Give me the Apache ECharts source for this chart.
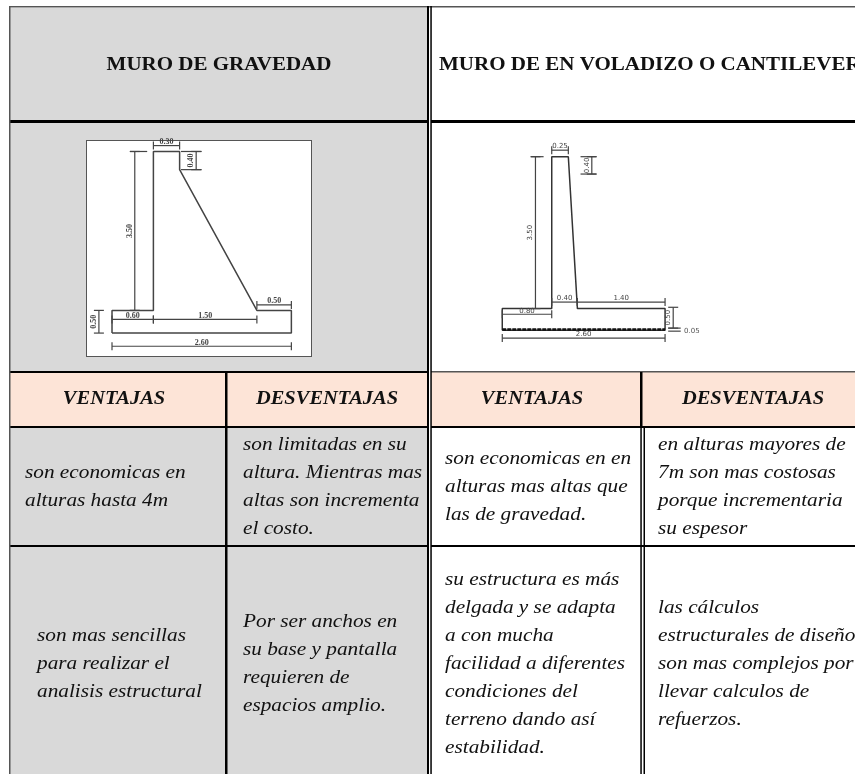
<!DOCTYPE html>
<html>
<head>
<meta charset="utf-8">
<style>html,body{margin:0;padding:0;background:#fff}#chart{width:855px;height:774px}</style>
<script src="https://cdn.jsdelivr.net/npm/echarts@6/dist/echarts.min.js"></script>
</head>
<body>
<div id="chart"></div>
<script>
// textos de la tabla
const titulos = ['MURO DE GRAVEDAD', 'MURO DE EN VOLADIZO O CANTILEVER'];
const encabezados = ['VENTAJAS', 'DESVENTAJAS', 'VENTAJAS', 'DESVENTAJAS'];
const filaUno = [
  ['son economicas en', 'alturas hasta 4m'],
  ['son limitadas en su', 'altura. Mientras mas', 'altas son incrementa', 'el costo.'],
  ['son economicas en en', 'alturas mas altas que', 'las de gravedad.'],
  ['en alturas mayores de', '7m son mas costosas', 'porque incrementaria', 'su espesor']
];
const filaDos = [
  ['son mas sencillas', 'para realizar el', 'analisis estructural'],
  ['Por ser anchos en', 'su base y pantalla', 'requieren de', 'espacios amplio.'],
  ['su estructura es más', 'delgada y se adapta', 'a con mucha', 'facilidad a diferentes', 'condiciones del', 'terreno dando así', 'estabilidad.'],
  ['las cálculos', 'estructurales de diseño', 'son mas complejos por', 'llevar calculos de', 'refuerzos.']
];

// muro de gravedad, en metros tal como esta dibujado
const perfilGravedad = [[0, 0], [0, 0.5], [0.6, 0.5], [0.6, 4], [0.98, 4], [0.98, 3.6], [2.1, 0.5], [2.6, 0.5], [2.6, 0], [0, 0]];
const cotasGravedad = [
  ['0.30', 0.6, 4.13, 0.98, 4.13],
  ['0.40', 1.22, 4, 1.22, 3.6],
  ['3.50', 0.33, 4, 0.33, 0.5],
  ['0.50', -0.19, 0.5, -0.19, 0],
  ['0.60', 0, 0.3, 0.6, 0.3],
  ['1.50', 0.6, 0.3, 2.1, 0.3],
  ['0.50', 2.1, 0.62, 2.6, 0.62],
  ['2.60', 0, -0.29, 2.6, -0.29]
];
const extensionGravedad = [[0.26, 4, 0.51, 4], [1.0, 4, 1.3, 4], [1.0, 3.6, 1.3, 3.6]];

// muro en voladizo
const perfilVoladizo = [[0, 0], [0, 0.5], [0.79, 0.5], [0.79, 4], [1.055, 4], [1.2, 0.5], [2.6, 0.5], [2.6, 0], [0, 0]];
const fondoVoladizo = [[0, 0.02], [2.6, 0.02]];
const cotasVoladizo = [
  ['0.25', 0.79, 4.15, 1.055, 4.15],
  ['0.40', 1.43, 4, 1.43, 3.6],
  ['3.50', 0.53, 4, 0.53, 0.5],
  ['0.40', 0.79, 0.65, 1.2, 0.65],
  ['1.40', 1.2, 0.65, 2.6, 0.65],
  ['0.80', 0, 0.37, 0.79, 0.37],
  ['0.50', 2.73, 0.53, 2.73, 0.05],
  ['2.60', 0, -0.18, 2.6, -0.18]
];
const extensionVoladizo = [[0.46, 4, 0.66, 4], [1.25, 4, 1.5, 4], [1.25, 3.6, 1.5, 3.6], [2.65, 0.05, 2.85, 0.05], [2.65, -0.02, 2.85, -0.02]];

const GRIS = '#d9d9d9';
const DURAZNO = '#fde4d7';
const NEGRO = '#000';
const OSCURO = '#555';
const SERIF = '"Liberation Serif", serif';

// rectangulos de la tabla en pixeles de pagina: x0, y0, x1, y1, color
const fondos = [
  [10, 8, 428, 774, GRIS],
  [10, 372, 428, 427, DURAZNO],
  [431, 372, 855, 427, DURAZNO],
  [86, 140, 312, 357, '#fff']
];
const reglas = [
  [9, 6, 855, 7.5, OSCURO],
  [10, 120, 428, 123, NEGRO],
  [431, 120, 855, 123, NEGRO],
  [10, 371, 428, 373, NEGRO],
  [431, 371, 855, 372.5, OSCURO],
  [10, 426, 428, 428, NEGRO],
  [431, 426, 855, 428, NEGRO],
  [10, 545, 428, 547, NEGRO],
  [431, 545, 855, 547, NEGRO],
  [9, 6, 10.5, 774, OSCURO],
  [225, 372, 227.5, 774, NEGRO],
  [427, 6, 429, 774, NEGRO],
  [430.3, 6, 431.8, 774, NEGRO],
  [640, 372, 642.5, 427, NEGRO],
  [640.3, 427, 641.8, 774, NEGRO],
  [643.5, 427, 645, 774, NEGRO],
  // marco de la imagen del muro de gravedad
  [86, 140, 312, 141, OSCURO],
  [86, 356, 312, 357, OSCURO],
  [86, 140, 87, 357, OSCURO],
  [311, 140, 312, 357, OSCURO]
];

// posiciones de los textos; el original sale ensanchado, por eso el estirado
const textos = [];
function agregar(lineas, x, y, align, font, estirado) {
  textos.push({ texto: lineas.join('\n'), x: x, y: y, align: align, font: font, estirado: estirado });
}
const FONT_TITULO = 'bold 18.6px ' + SERIF;
const FONT_ENCABEZADO = 'italic bold 18.6px ' + SERIF;
const FONT_CUERPO = 'italic 18.5px ' + SERIF;
agregar([titulos[0]], 219, 65, 'center', FONT_TITULO, 1.13);
agregar([titulos[1]], 439, 65, 'left', FONT_TITULO, 1.13);
[114, 327, 532, 753].forEach((x, i) => agregar([encabezados[i]], x, 399, 'center', FONT_ENCABEZADO, 1.1));
const xCuerpo = [25, 243, 445, 658];
xCuerpo.forEach((x, i) => agregar(filaUno[i], x, 487, 'left', FONT_CUERPO, 1.15));
[37, 243, 445, 658].forEach((x, i) => agregar(filaDos[i], x, 664.5, 'left', FONT_CUERPO, 1.15));

function rectItem(api, r) {
  const a = api.coord([r[0], r[1]]);
  const b = api.coord([r[2], r[3]]);
  return { type: 'rect', shape: { x: a[0], y: a[1], width: b[0] - a[0], height: b[1] - a[1] }, style: { fill: r[4] } };
}

function serieRects(lista, z) {
  return {
    type: 'custom', xAxisIndex: 0, yAxisIndex: 0, z: z, silent: true, clip: false,
    data: lista.map((r, i) => [i, 0]),
    renderItem: (params, api) => rectItem(api, lista[params.dataIndex])
  };
}

function serieTextos() {
  return {
    type: 'custom', xAxisIndex: 0, yAxisIndex: 0, z: 3, silent: true, clip: false,
    data: textos.map((t, i) => [i, 0]),
    renderItem: (params, api) => {
      const t = textos[params.dataIndex];
      const p = api.coord([t.x, t.y]);
      return {
        type: 'text', x: p[0], y: p[1], scaleX: t.estirado,
        style: { text: t.texto, font: t.font, lineHeight: 28, fill: '#111', align: t.align, verticalAlign: 'middle' }
      };
    }
  };
}

// cota: linea, marcas en los extremos y numero
function serieCotas(eje, cotas, extension, font, color) {
  const lineaStyle = { stroke: color, lineWidth: 1.2, fill: null };
  return [{
    type: 'custom', xAxisIndex: eje, yAxisIndex: eje, z: 5, silent: true, clip: false,
    data: cotas.map((c, i) => [i, 0]),
    renderItem: (params, api) => {
      const c = cotas[params.dataIndex];
      const a = api.coord([c[1], c[2]]);
      const b = api.coord([c[3], c[4]]);
      const vertical = c[1] === c[3];
      const dx = vertical ? 5 : 0;
      const dy = vertical ? 0 : 4;
      const linea = (x1, y1, x2, y2) => ({ type: 'line', shape: { x1, y1, x2, y2 }, style: lineaStyle });
      return {
        type: 'group',
        children: [
          linea(a[0], a[1], b[0], b[1]),
          linea(a[0] - dx, a[1] - dy, a[0] + dx, a[1] + dy),
          linea(b[0] - dx, b[1] - dy, b[0] + dx, b[1] + dy),
          {
            type: 'text',
            x: vertical ? a[0] - 5 : (a[0] + b[0]) / 2,
            y: vertical ? (a[1] + b[1]) / 2 : a[1] - 3.5,
            rotation: vertical ? Math.PI / 2 : 0,
            style: { text: c[0], font: font, fill: color, align: 'center', verticalAlign: 'middle' }
          }
        ]
      };
    }
  }, {
    type: 'custom', xAxisIndex: eje, yAxisIndex: eje, z: 5, silent: true, clip: false,
    data: extension.map((c, i) => [i, 0]),
    renderItem: (params, api) => {
      const c = extension[params.dataIndex];
      const a = api.coord([c[0], c[1]]);
      const b = api.coord([c[2], c[3]]);
      return { type: 'line', shape: { x1: a[0], y1: a[1], x2: b[0], y2: b[1] }, style: lineaStyle };
    }
  }];
}

function ejeOculto(grid, min, max, inverso) {
  return { type: 'value', gridIndex: grid, min: min, max: max, inverse: !!inverso, show: false };
}

const chart = echarts.init(document.getElementById('chart'), null, { renderer: 'canvas' });
chart.setOption({
  animation: false,
  backgroundColor: '#fff',
  grid: [
    { left: 0, top: 0, width: 855, height: 774 },
    { left: 86, top: 140, width: 226, height: 217 },
    { left: 490, top: 130, width: 210, height: 240 }
  ],
  xAxis: [ejeOculto(0, 0, 855), ejeOculto(1, -0.377, 2.899), ejeOculto(2, -0.196, 3.158)],
  yAxis: [ejeOculto(0, 0, 774, true), ejeOculto(1, -0.527, 4.253), ejeOculto(2, -0.915, 4.615)],
  series: [
    serieRects(fondos, 1),
    serieRects(reglas, 2),
    serieTextos(),
    {
      type: 'line', xAxisIndex: 1, yAxisIndex: 1, z: 4, silent: true, showSymbol: false,
      lineStyle: { color: '#444', width: 1.5 }, data: perfilGravedad
    },
    ...serieCotas(1, cotasGravedad, extensionGravedad, 'bold 8px ' + SERIF, '#444'),
    {
      type: 'line', xAxisIndex: 2, yAxisIndex: 2, z: 4, silent: true, showSymbol: false,
      lineStyle: { color: '#333', width: 1.5 }, data: perfilVoladizo
    },
    {
      type: 'line', xAxisIndex: 2, yAxisIndex: 2, z: 4, silent: true, showSymbol: false,
      lineStyle: { color: '#111', width: 2.5, type: [4, 1] }, data: fondoVoladizo
    },
    ...serieCotas(2, cotasVoladizo, extensionVoladizo, '7px "DejaVu Sans"', '#444')
  ],
  // el 0.05 va afuera de la cota
  graphic: [{ type: 'text', x: 684, y: 328, silent: true, style: { text: '0.05', font: '7px "DejaVu Sans"', fill: '#555' } }]
});
</script>
</body>
</html>
